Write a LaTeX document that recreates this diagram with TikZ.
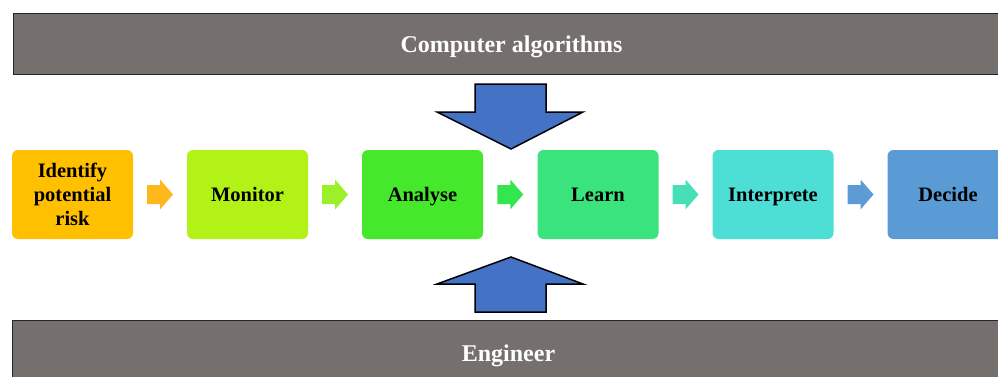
\documentclass[tikz,border=0pt]{standalone}
\usepackage{fontspec}
\setmainfont{Liberation Serif}
\usetikzlibrary{calc}
\definecolor{barg}{HTML}{75706E}
\definecolor{bigarrow}{HTML}{4472C4}
\definecolor{cA}{HTML}{FFC000}
\definecolor{cB}{HTML}{B2F217}
\definecolor{cC}{HTML}{45E82A}
\definecolor{cD}{HTML}{3AE37B}
\definecolor{cE}{HTML}{4DDED5}
\definecolor{cF}{HTML}{5B9BD5}
\definecolor{aA}{HTML}{FFB81C}
\definecolor{aB}{HTML}{9CF02A}
\definecolor{aC}{HTML}{33E64F}
\definecolor{aD}{HTML}{47E0B6}
\definecolor{aE}{HTML}{5C9BD6}
\newcommand{\boxfont}{\fontsize{20.5pt}{24pt}\selectfont\bfseries}
\newcommand{\barfont}{\fontsize{24pt}{28pt}\selectfont\bfseries}
\begin{document}
\begin{tikzpicture}[x=1pt,y=-1pt,
  box/.style={rounded corners=6pt, minimum width=121pt, minimum height=89pt, inner sep=0pt, align=center, text=black, font=\boxfont},
  onebox/.style={box, text height=17pt, text depth=4pt},
  bartext/.style={text=white, font=\barfont, anchor=base, inner sep=0pt},
  barstyle/.style={fill=barg, draw=black!85, line width=0.8pt},
  bigarr/.style={fill=bigarrow, draw=black, line width=1.5pt, line join=miter}]
\useasboundingbox (0,0) rectangle (998,376);
\clip (0,0) rectangle (998,376);
% bars
\draw[barstyle] (13,13) rectangle (1010,74);
\node[bartext] (top) at (511.5,52) {Computer algorithms};
\draw[barstyle] (12,320) rectangle (1010,390);
\node[bartext] (bot) at (508.5,361.5) {Engineer};
% big arrows
\draw[bigarr] (475,84) -- (546,84) -- (546,112) -- (583,112) -- (511,149) -- (437,112) -- (475,112) -- cycle;
\draw[bigarr] (511,257) -- (583,284) -- (546,284) -- (546,312) -- (475,312) -- (475,284) -- (437,284) -- cycle;
% boxes
\node[box, fill=cA] (b1) at (72.5,194.5) {Identify\\potential\\risk};
\node[onebox, fill=cB] (b2) at (247.5,194.5) {Monitor};
\node[onebox, fill=cC] (b3) at (422.5,194.5) {Analyse};
\node[onebox, fill=cD] (b4) at (598,194.5) {Learn};
\node[onebox, fill=cE] (b5) at (773,194.5) {Interprete};
\node[onebox, fill=cF] (b6) at (948,194.5) {Decide};
% small arrows
\foreach \a/\b/\c in {b1/b2/aA, b2/b3/aB, b3/b4/aC, b4/b5/aD, b5/b6/aE}{
  \coordinate (m) at ($(\a.east)!0.5!(\b.west)$);
  \fill[\c] ($(m)+(-13,-9.5)$) -- ($(m)+(0,-9.5)$) -- ($(m)+(0,-15)$) -- ($(m)+(13,0)$)
    -- ($(m)+(0,15)$) -- ($(m)+(0,9.5)$) -- ($(m)+(-13,9.5)$) -- cycle;
}
\end{tikzpicture}
\end{document}
